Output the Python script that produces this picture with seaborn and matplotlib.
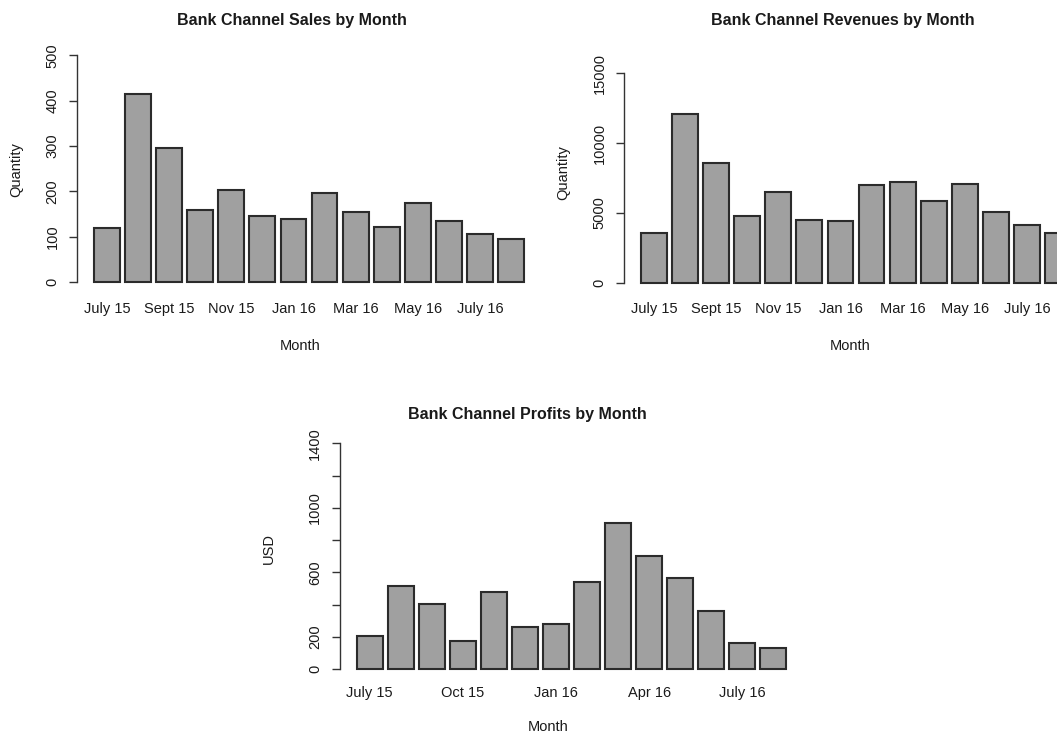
import matplotlib
matplotlib.use("Agg")
import matplotlib.pyplot as plt
import seaborn as sns

# ---------------- data ----------------
months = ["July 15", "Aug 15", "Sept 15", "Oct 15", "Nov 15", "Dec 15", "Jan 16",
          "Feb 16", "Mar 16", "Apr 16", "May 16", "June 16", "July 16", "Aug 16"]
sales = [119, 414, 295, 160, 202, 145, 139, 197, 155, 122, 174, 135, 106, 96]
revenues = [3550, 12100, 8600, 4760, 6480, 4480, 4450, 6980, 7210, 5880, 7050, 5100, 4120, 3570]
profits = [204, 514, 401, 171, 479, 260, 277, 539, 906, 700, 564, 359, 159, 130]

top_tick_labels = ["July 15", "Sept 15", "Nov 15", "Jan 16", "Mar 16", "May 16", "July 16"]
profit_tick_labels = ["July 15", "Oct 15", "Jan 16", "Apr 16", "July 16"]

sales_yticks = [0, 100, 200, 300, 400, 500]
sales_ylabels = ["0", "100", "200", "300", "400", "500"]
revenue_yticks = [0, 5000, 10000, 15000]
revenue_ylabels = ["0", "5000", "10000", "15000"]
profit_yticks = [0, 200, 400, 600, 800, 1000, 1200, 1400]
profit_ylabels = ["0", "200", "", "600", "", "1000", "", "1400"]

titles = ["Bank Channel Sales by Month", "Bank Channel Revenues by Month",
          "Bank Channel Profits by Month"]
ylabels = ["Quantity", "Quantity", "USD"]
xlabel = "Month"

# ---------------- style ----------------
sns.set_theme(style="white")
plt.rcParams["font.family"] = ["Liberation Sans", "DejaVu Sans"]

W, H = 1057, 735
FILL = "#a0a0a0"
EDGE = "#2b2b2b"
AX = "#333333"
TXT = "#1a1a1a"

fig = plt.figure(figsize=(W / 100, H / 100), dpi=100)
fig.patch.set_facecolor("white")


def add_ax(left, right, top, bottom):
    return fig.add_axes([left / W, 1 - bottom / H, (right - left) / W, (bottom - top) / H])


def draw(ax, values, yticks, ytlabels, xtlabels, ylim, xpad):
    sns.barplot(x=months, y=values, ax=ax, color=FILL, edgecolor=EDGE,
                linewidth=1.5, width=0.833, saturation=1, errorbar=None)
    ax.set_xlim(-0.97, 13.97)
    ax.set_ylim(*ylim)
    ax.set_xlabel("")
    ax.set_ylabel("")
    ax.set_facecolor("none")
    for s in ["top", "right", "bottom"]:
        ax.spines[s].set_visible(False)
    ax.spines["left"].set_color(AX)
    ax.spines["left"].set_linewidth(1.0)
    ax.spines["left"].set_bounds(yticks[0], yticks[-1])
    ax.set_yticks(yticks)
    ax.set_yticklabels(ytlabels, rotation=90, va="center")
    pos = [months.index(m) for m in xtlabels]
    ax.set_xticks(pos)
    ax.set_xticklabels(xtlabels)
    ax.tick_params(axis="y", length=6, width=1.0, color=AX, pad=6.5,
                   labelsize=10.5, labelcolor=TXT, left=True)
    ax.tick_params(axis="x", length=0, pad=xpad, labelsize=10.5, labelcolor=TXT)


ax1 = add_ax(77, 541, 46.3, 291.1)
draw(ax1, sales, sales_yticks, sales_ylabels, top_tick_labels, (-20, 520), 8)

ax2 = add_ax(624, 1088, 64.9, 291.1)
draw(ax2, revenues, revenue_yticks, revenue_ylabels, top_tick_labels, (-600, 15600), 8)

ax3 = add_ax(339.5, 803.5, 434.3, 678)
draw(ax3, profits, profit_yticks, profit_ylabels, profit_tick_labels, (-56, 1456), 5.5)


def ftext(x, y, s, **kw):
    fig.text(x / W, 1 - y / H, s, ha="center", va="center", color=TXT, **kw)


ftext(292, 21, titles[0], fontsize=11.5, fontweight="bold")
ftext(843, 21, titles[1], fontsize=11.5, fontweight="bold")
ftext(527, 415, titles[2], fontsize=11.5, fontweight="bold")

ftext(300, 346, xlabel, fontsize=10.5)
ftext(850, 346, xlabel, fontsize=10.5)
ftext(548, 727, xlabel, fontsize=10.5)

ftext(16, 170, ylabels[0], fontsize=10.5, rotation=90)
ftext(563, 173, ylabels[1], fontsize=10.5, rotation=90)
ftext(269, 548, ylabels[2], fontsize=10.5, rotation=90)

fig.savefig("out.png", dpi=100, facecolor="white")
